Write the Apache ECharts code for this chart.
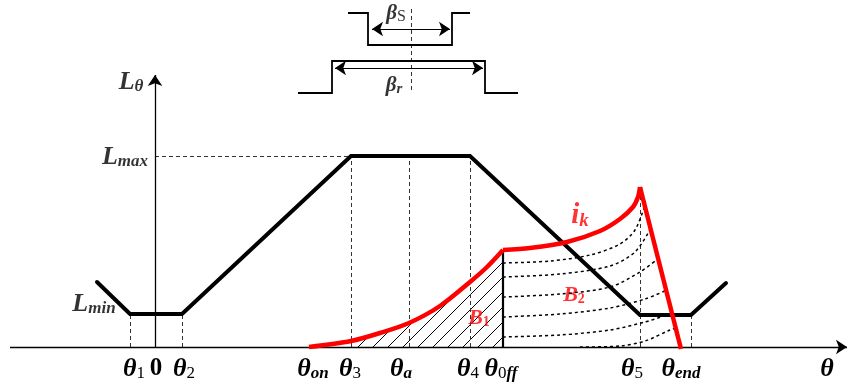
<!DOCTYPE html>
<html>
<head>
<meta charset="utf-8">
<style>
  html, body { margin: 0; padding: 0; background: #fff; }
  #chart { width: 848px; height: 383px; }
</style>
<script src="https://cdn.jsdelivr.net/npm/echarts@6/dist/echarts.min.js"></script>
</head>
<body>
<div id="chart"></div>
<script>
// x: 转子位置 θ, y: 电感 L / 电流 i (任意单位)
const thetaNames = ['θ1', '0', 'θ2', 'θon', 'θ3', 'θa', 'θ4', 'θ0ff', 'θ5', 'θend', 'θ'];
const thetaLabelAt = [-21, 1, 29, 158, 195, 246, 313, 346, 477, 526, 672];

// 电感曲线 L(θ)
const lProfile = [[-58, 65], [-25, 33], [27, 33], [196, 191], [315, 191], [485, 32], [536, 32], [571, 64]];
const lMax = 191;

// 相电流 ik
const ikRise = [[154, 0], [196, 6], [225, 14], [254, 24], [285, 41], [315, 65], [332, 80], [348, 97]];
const ikFree = [[348, 97], [375, 99], [412, 105], [445, 116], [465, 128], [478, 140], [483, 150], [485, 160]];
const ikFall = [[485, 160], [526, -2]];
const thetaOff = 348;

// B2 区域的虚线族
const b2Curves = [
    [[348, 84], [395, 86], [435, 92], [465, 103], [480, 117], [490, 142]],
    [[348, 70], [405, 73], [455, 81], [480, 95], [496, 119]],
    [[348, 50], [405, 53], [455, 60], [485, 75], [504, 89]],
    [[348, 30], [405, 33], [455, 39], [490, 48], [512, 57]],
    [[348, 10], [405, 12], [455, 17], [490, 25], [518, 34]],
    [[425, 0], [465, 1], [490, 6], [515, 17], [522, 19]]
];

// 竖直虚线: [θ, 高度]
const guides = [[-25, 33], [27, 33], [196, 191], [254, 191], [315, 191], [485, 160], [536, 32]];

// 定子/转子极示意
const statorPole = [[193, 334], [213, 334], [213, 302], [297, 302], [297, 334], [315, 334]];
const rotorPole = [[143, 254], [177, 254], [177, 286], [330, 286], [330, 254], [363, 254]];
const betaS = [[217, 318], [295, 318]];
const betaR = [[180, 279], [328, 279]];
const poleAxis = [[256, 257], [256, 339]];

const F = "'Liberation Serif', 'Times New Roman', serif";

// 斜线填充
const hatch = document.createElement('canvas');
hatch.width = 15; hatch.height = 15;
(ctx => {
    ctx.strokeStyle = '#000';
    ctx.lineWidth = 1;
    ctx.beginPath();
    ctx.moveTo(-2, 17); ctx.lineTo(17, -2);
    ctx.stroke();
})(hatch.getContext('2d'));

const rich = {
    t: {fontFamily: F, fontStyle: 'italic', fontWeight: 'bold', fontSize: 26, color: '#000'},
    z: {fontFamily: F, fontWeight: 'bold', fontSize: 25, color: '#000'},
    n: {fontFamily: F, fontSize: 17, color: '#000', verticalAlign: 'bottom'},
    i: {fontFamily: F, fontStyle: 'italic', fontWeight: 'bold', fontSize: 17, color: '#000', verticalAlign: 'bottom'},
    L: {fontFamily: F, fontStyle: 'italic', fontWeight: 'bold', fontSize: 26, color: '#000'},
    Ls: {fontFamily: F, fontStyle: 'italic', fontWeight: 'bold', fontSize: 17, color: '#000', verticalAlign: 'bottom'},
    b: {fontFamily: F, fontStyle: 'italic', fontWeight: 'bold', fontSize: 21, color: '#000'},
    bs: {fontFamily: F, fontSize: 16, color: '#000', verticalAlign: 'bottom'},
    bi: {fontFamily: F, fontStyle: 'italic', fontWeight: 'bold', fontSize: 15, color: '#000', verticalAlign: 'bottom'},
    R: {fontFamily: F, fontStyle: 'italic', fontWeight: 'bold', fontSize: 29, color: '#f00'},
    Ri: {fontFamily: F, fontStyle: 'italic', fontWeight: 'bold', fontSize: 19, color: '#f00', verticalAlign: 'bottom'},
    B: {fontFamily: F, fontStyle: 'italic', fontWeight: 'bold', fontSize: 22, color: '#f00'},
    Bs: {fontFamily: F, fontWeight: 'bold', fontSize: 14, color: '#f00', verticalAlign: 'bottom'}
};

function thetaText(name) {
    if (name === '0') return '{z|0}';
    if (name === 'θ') return '{t|θ}';
    let sub = name.slice(1);
    if (/^\d$/.test(sub)) return '{t|θ}{n|' + sub + '}';
    if (sub === '0ff') return '{t|θ}{n|0}{i|ff}';
    return '{t|θ}{i|' + sub + '}';
}

const notes = [
    {value: [-24, 265], text: '{L|L}{Ls|θ}'},
    {value: [-30, 190], text: '{L|L}{Ls|max}'},
    {value: [-61, 43], text: '{L|L}{Ls|min}'},
    {value: [425, 131], text: '{R|i}{Ri|k}'},
    {value: [324, 29], text: '{B|B}{Bs|1}'},
    {value: [419, 52], text: '{B|B}{Bs|2}'},
    {value: [241, 333], text: '{b|β}{bs|S}'},
    {value: [239, 261], text: '{b|β}{bi|r}'}
];

const seg = (pts, color, width, type) => ({
    type: 'lines', coordinateSystem: 'cartesian2d', polyline: true,
    data: [{coords: pts}], symbol: 'none',
    lineStyle: {color, width, type: type || 'solid', opacity: 1}
});

const chart = echarts.init(document.getElementById('chart'));
chart.setOption({
    animation: false,
    grid: {left: 0, right: 0, top: 0, bottom: 0, containLabel: false, outerBoundsMode: 'none'},
    xAxis: {
        type: 'value', min: -155, max: 693, offset: -36,
        axisLine: {show: false, onZero: false}, axisTick: {show: false}, splitLine: {show: false},
        axisLabel: {
            customValues: thetaLabelAt, margin: 9,
            formatter: v => thetaText(thetaNames[thetaLabelAt.indexOf(v)]),
            rich
        }
    },
    yAxis: {type: 'value', min: -36, max: 347, show: false},
    series: [
        // 阴影 B1
        {
            type: 'line', data: ikRise.filter(p => p[0] >= 196), smooth: 0.3, showSymbol: false,
            lineStyle: {width: 0}, areaStyle: {color: {image: hatch, repeat: 'repeat'}, opacity: 1}, z: 1
        },
        // 竖直虚线
        {
            type: 'lines', coordinateSystem: 'cartesian2d', symbol: 'none',
            data: guides.map(g => ({coords: [[g[0], 0], [g[0], g[1]]]}))
                .concat([{coords: [[0, lMax], [196, lMax]]}, {coords: poleAxis}]),
            lineStyle: {color: '#333', width: 1, type: [4, 3], opacity: 1}
        },
        ...b2Curves.map(c => ({
            type: 'line', data: c, smooth: 0.3, showSymbol: false,
            lineStyle: {color: '#000', width: 1.5, type: [3, 3]}
        })),
        // 坐标轴
        {
            type: 'lines', coordinateSystem: 'cartesian2d', symbol: ['none', 'arrow'], symbolSize: 11,
            data: [{coords: [[-145, 0], [692, 0]]}, {coords: [[0, 0], [0, 272]]}],
            lineStyle: {color: '#000', width: 1.3, opacity: 1}
        },
        // β 箭头
        {
            type: 'lines', coordinateSystem: 'cartesian2d', symbol: ['arrow', 'arrow'], symbolSize: 11,
            data: [{coords: betaS}, {coords: betaR}],
            lineStyle: {color: '#000', width: 1, opacity: 1}
        },
        seg(statorPole, '#000', 1.8),
        seg(rotorPole, '#000', 1.8),
        seg([[thetaOff, 0], [thetaOff, ikRise[ikRise.length - 1][1]]], '#000', 2.2),
        {
            type: 'line', data: lProfile, showSymbol: false,
            lineStyle: {color: '#000', width: 4, cap: 'round', join: 'miter'}
        },
        {type: 'line', data: ikRise, smooth: 0.3, showSymbol: false, lineStyle: {color: '#f00', width: 4.5}},
        {type: 'line', data: ikFree, smooth: 0.3, showSymbol: false, lineStyle: {color: '#f00', width: 4.5}},
        {type: 'line', data: ikFall, showSymbol: false, lineStyle: {color: '#f00', width: 4.5}},
        {
            type: 'scatter', symbolSize: 1, itemStyle: {color: 'transparent'},
            data: notes.map(n => ({value: n.value, label: {formatter: n.text}})),
            label: {show: true, position: 'inside', rich}
        }
    ]
});
</script>
</body>
</html>
